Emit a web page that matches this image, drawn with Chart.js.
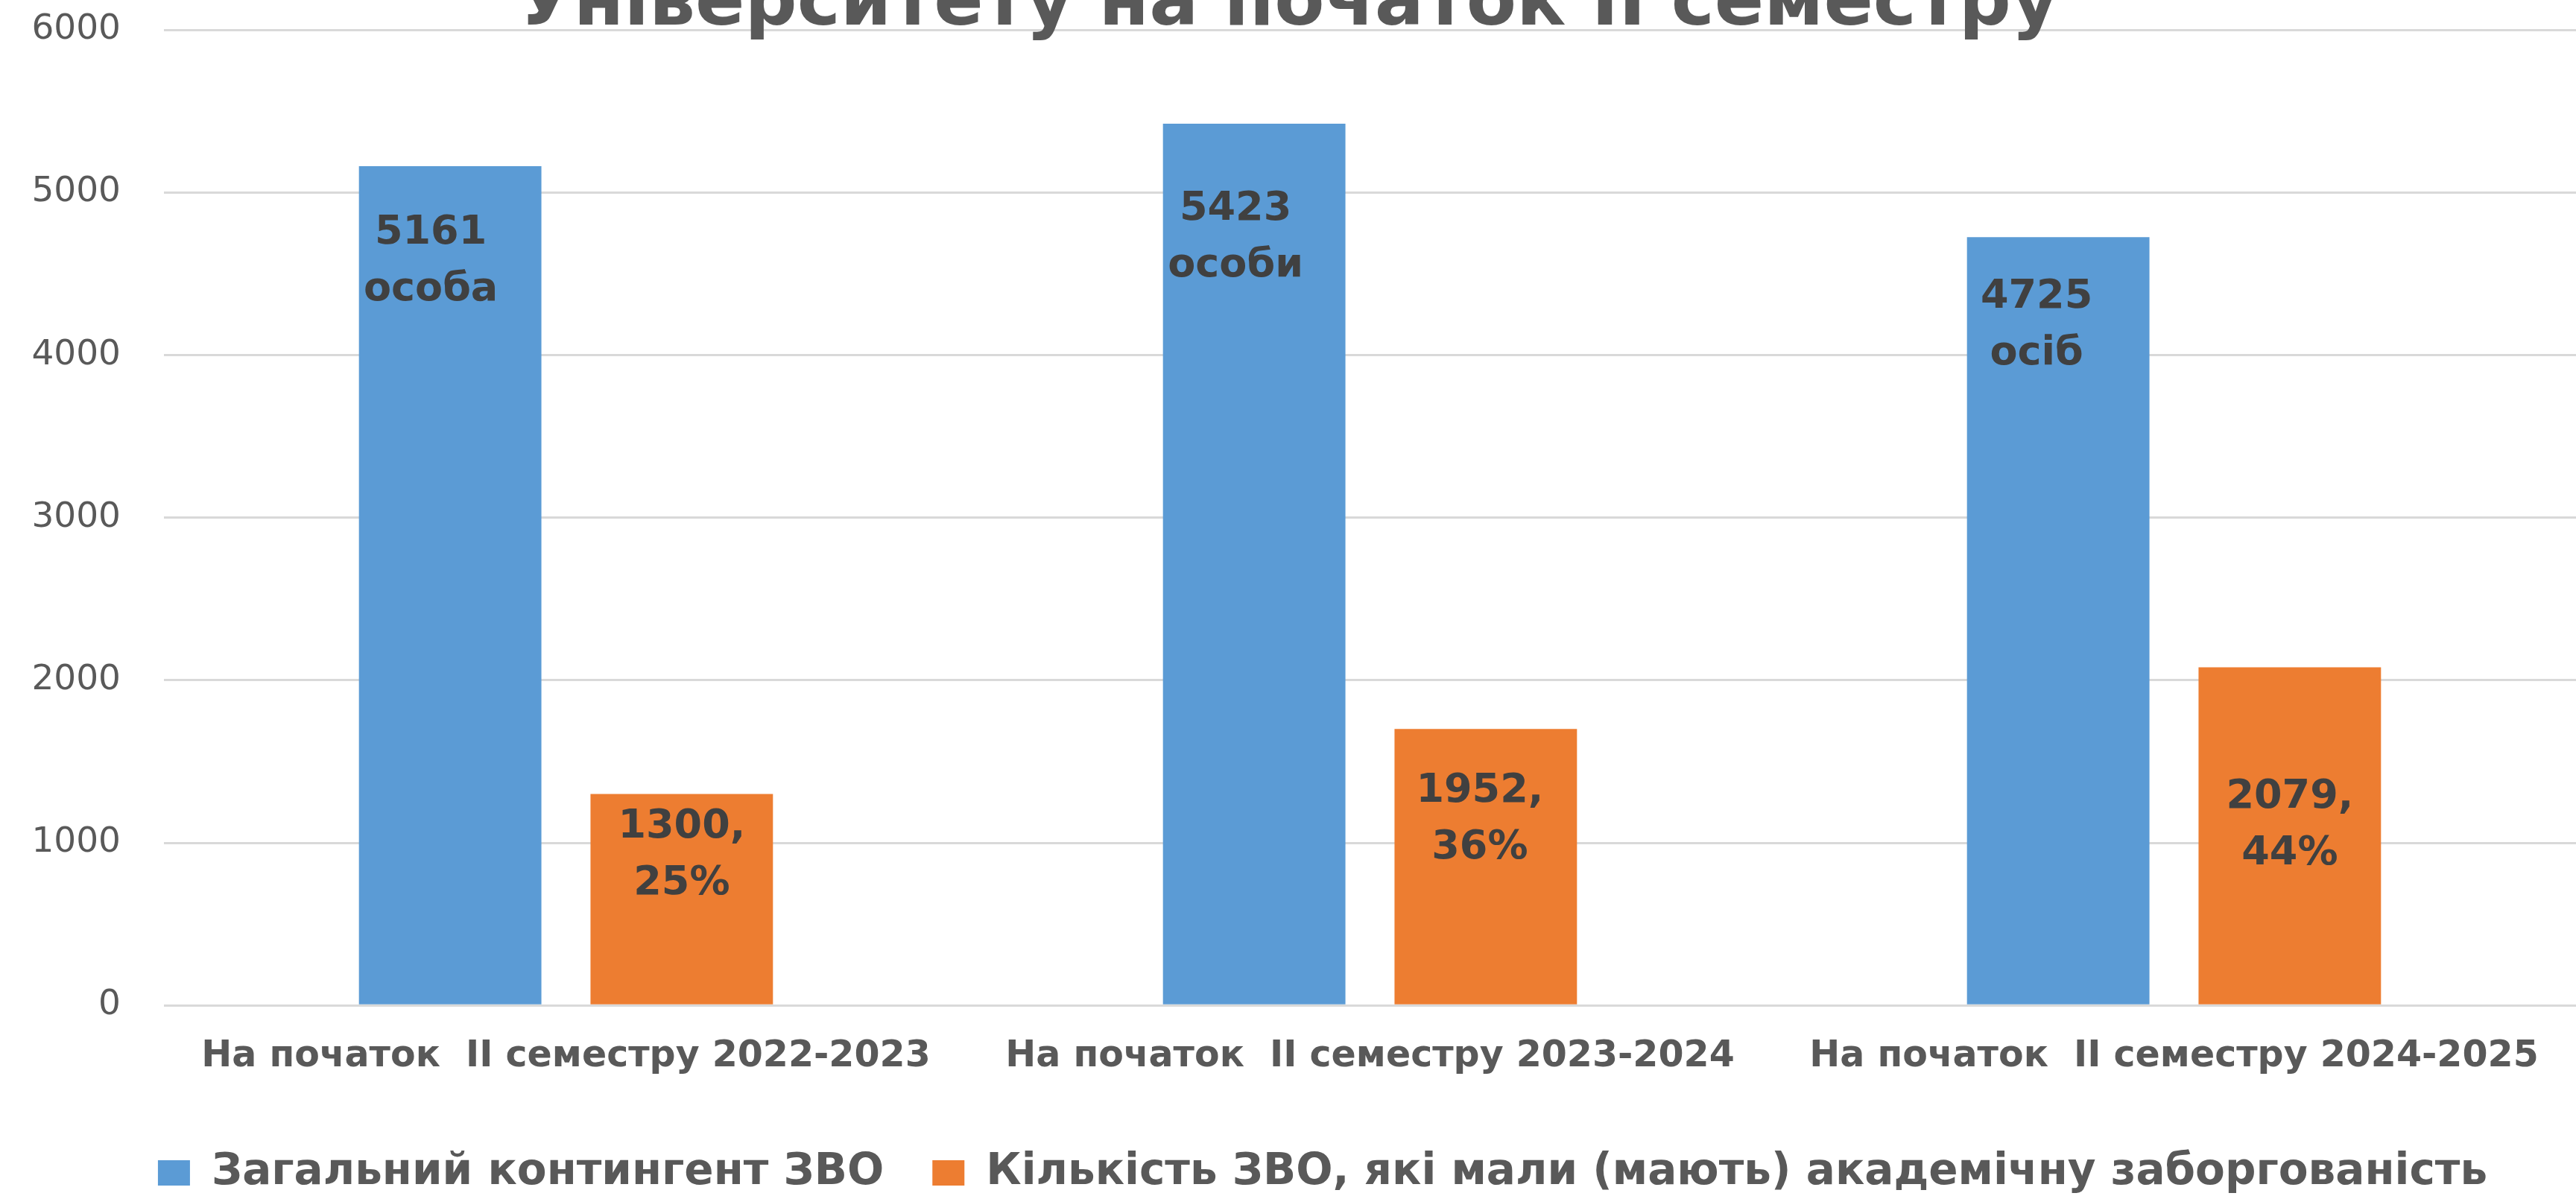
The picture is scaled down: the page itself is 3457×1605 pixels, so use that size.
<!DOCTYPE html>
<html>
<head>
<meta charset="utf-8">
<script src="https://cdn.jsdelivr.net/npm/chart.js@4.4.1/dist/chart.umd.min.js"></script>
<style>
    html, body { margin: 0; padding: 0; background: #ffffff; }
    #wrap { width: 3457px; height: 1605px; }
</style>
</head>
<body>
<div id="wrap"><canvas id="contingentChart" width="3457" height="1605"></canvas></div>
<script>
// data
const categories = [
    "На початок  ІІ семестру 2022-2023",
    "На початок  ІІ семестру 2023-2024",
    "На початок  ІІ семестру 2024-2025",
];
const seriesNames = [
    "Загальний контингент ЗВО",
    "Кількість ЗВО, які мали (мають) академічну заборгованість",
];
const totalStudents = [5161, 5423, 4725];
const studentsWithDebt = [1300, 1700, 2079];
const totalLabels = [["5161", "особа"], ["5423", "особи"], ["4725", "осіб"]];
const debtLabels = [["1300,", "25%"], ["1952,", "36%"], ["2079,", "44%"]];
const yMin = 0;
const yMax = 6000;
const yStep = 1000;
const titleText = "Університету на початок ІІ семестру";

const FONT = "'DejaVu Sans', Verdana, sans-serif";
const GREY = "#595959";

// title is cut off by the top edge in the original, only its last line shows
const clippedTitle = {
    id: "clippedTitle",
    afterDraw(chart, args, options) {
        const ctx = chart.ctx;
        ctx.save();
        ctx.font = "bold " + options.size + "px " + FONT;
        ctx.fillStyle = GREY;
        ctx.textAlign = "center";
        ctx.textBaseline = "alphabetic";
        ctx.fillText(options.text, chart.width / 2, options.baseline);
        ctx.restore();
    },
};

// two-line value labels inside the bars
const barLabels = {
    id: "barLabels",
    afterDatasetsDraw(chart, args, options) {
        const ctx = chart.ctx;
        ctx.save();
        ctx.font = "bold " + options.size + "px " + FONT;
        ctx.fillStyle = "#404040";
        ctx.textAlign = "center";
        ctx.textBaseline = "alphabetic";
        chart.data.datasets.forEach((ds, i) => {
            const meta = chart.getDatasetMeta(i);
            meta.data.forEach((bar, j) => {
                const lines = options.text[i][j];
                const x = bar.x + options.dx[i][j];
                const y = bar.y + options.dy[i][j];
                lines.forEach((line, k) => {
                    ctx.fillText(line, x, y + k * options.lineHeight);
                });
            });
        });
        ctx.restore();
    },
};

// nudge the legend row a bit to the right, like in the original
const legendShift = {
    id: "legendShift",
    afterLayout(chart, args, options) {
        chart.legend.left += options.dx;
        chart.legend.right += options.dx;
    },
};

const ctx = document.getElementById("contingentChart");
const myBarChart = new Chart(ctx, {
    type: "bar",
    data: {
        labels: categories,
        datasets: [
            {
                label: seriesNames[0],
                data: totalStudents,
                backgroundColor: "#5B9BD5",
                categoryPercentage: 0.576,
                barPercentage: 0.788,
            },
            {
                label: seriesNames[1],
                data: studentsWithDebt,
                backgroundColor: "#ED7D31",
                categoryPercentage: 0.576,
                barPercentage: 0.788,
            },
        ],
    },
    options: {
        responsive: false,
        animation: false,
        devicePixelRatio: 1,
        layout: {
            padding: { top: 40, left: 35, right: 0, bottom: -8 },
        },
        scales: {
            x: {
                grid: { display: false },
                border: { display: false },
                ticks: {
                    color: GREY,
                    padding: 32,
                    maxRotation: 0,
                    autoSkip: false,
                    font: { family: FONT, size: 49, weight: "bold" },
                },
            },
            y: {
                min: yMin,
                max: yMax,
                border: { display: false },
                grid: { color: "#D9D9D9", lineWidth: 3, drawTicks: false },
                ticks: {
                    stepSize: yStep,
                    color: GREY,
                    padding: 58,
                    font: { family: FONT, size: 47 },
                    callback: (value) => String(value),
                },
                afterFit(scale) {
                    // fixed axis width, and no label padding pushing the plot down
                    scale.width = 185;
                    scale.paddingTop = 0;
                    scale.paddingBottom = 0;
                },
            },
        },
        plugins: {
            legend: {
                position: "bottom",
                labels: {
                    boxWidth: 43,
                    boxHeight: 34,
                    padding: 65,
                    color: GREY,
                    font: { family: FONT, size: 58, weight: "bold" },
                },
            },
            tooltip: { enabled: false },
            clippedTitle: {
                text: titleText,
                size: 98,
                baseline: 33,
            },
            barLabels: {
                text: [totalLabels, debtLabels],
                dx: [[-26, -25, -29], [0, -8, 0]],
                dy: [[104, 129, 95], [58, 98, 188]],
                lineHeight: 76,
                size: 54,
            },
            legendShift: { dx: 29 },
        },
    },
    plugins: [clippedTitle, barLabels, legendShift],
});
</script>
</body>
</html>
